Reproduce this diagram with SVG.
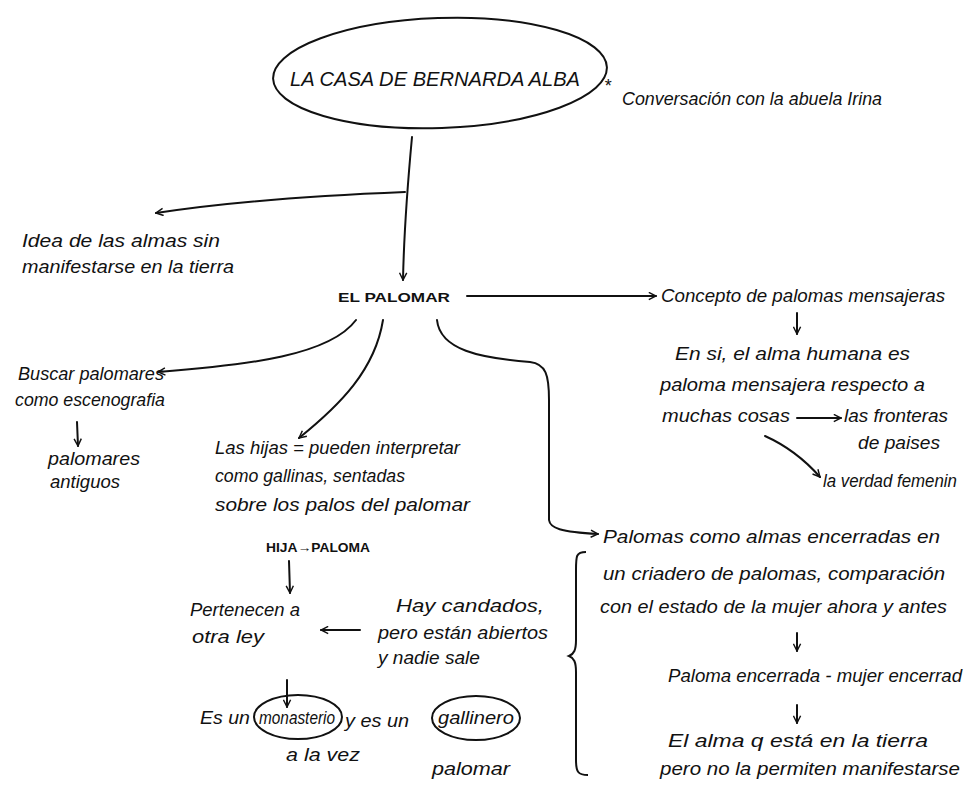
<svg xmlns="http://www.w3.org/2000/svg" width="971" height="787" viewBox="0 0 971 787">
<defs>
<style>
text{font-family:"Liberation Sans","DejaVu Sans",sans-serif;font-style:italic;fill:#111;}
.t{font-size:18px;}
.s{font-size:13px;font-style:normal;font-weight:bold;}
.c{stroke:#111;stroke-width:2;fill:none;stroke-linecap:round;}
.o{stroke:#111;stroke-width:2;fill:none;}
</style>
<marker id="a" viewBox="0 0 10 10" refX="9" refY="5" markerWidth="9" markerHeight="9" orient="auto" markerUnits="userSpaceOnUse">
<path d="M1,1 L9,5 L1,9" fill="none" stroke="#111" stroke-width="1.6"/>
</marker>
</defs>
<rect width="971" height="787" fill="#fff"/>
<g id="connectors">
<path class="c" marker-end="url(#a)" d="M412,137 C408,180 404,230 403,280"/>
<path class="c" marker-end="url(#a)" d="M405,192 C330,195 240,200 156,213"/>
<path class="c" marker-end="url(#a)" d="M467,296 L656,296"/>
<path class="c" marker-end="url(#a)" d="M797,313 L797,334"/>
<path class="c" marker-end="url(#a)" d="M797,418 L841,418"/>
<path class="c" marker-end="url(#a)" d="M765,436 C785,445 805,460 820,477"/>
<path class="c" marker-end="url(#a)" d="M356,320 C330,355 250,365 158,372"/>
<path class="c" marker-end="url(#a)" d="M77,422 L78,446"/>
<path class="c" marker-end="url(#a)" d="M383,320 C375,370 340,405 299,438"/>
<path class="c" marker-end="url(#a)" d="M437,320 C440,350 480,358 530,362 C546,364 549,375 549,400 L549,520 C550,528 560,532 598,534"/>
<path class="c" marker-end="url(#a)" d="M289,561 L290,593"/>
<path class="c" marker-end="url(#a)" d="M360,630 L321,630"/>
<path class="c" marker-end="url(#a)" d="M287,680 L287,707"/>
<path class="c" marker-end="url(#a)" d="M797,633 L797,651"/>
<path class="c" marker-end="url(#a)" d="M797,705 L797,723"/>
</g>
<g id="n-title">
<ellipse class="o" cx="440" cy="73" rx="167" ry="55" transform="rotate(-2 440 73)"/>
<text x="290" y="86" font-size="21" textLength="290" lengthAdjust="spacingAndGlyphs">LA CASA DE BERNARDA ALBA</text>
</g>
<g id="n-conversacion">
<text x="604" y="92" font-size="18" font-style="normal">*</text>
<text class="t" x="622" y="105" textLength="260" lengthAdjust="spacingAndGlyphs">Conversación con la abuela Irina</text>
</g>
<g id="n-idea">
<text class="t" x="22" y="247" textLength="198" lengthAdjust="spacingAndGlyphs">Idea de las almas sin</text>
<text class="t" x="22" y="273" textLength="212" lengthAdjust="spacingAndGlyphs">manifestarse en la tierra</text>
</g>
<g id="n-palomar">
<text class="s" x="338" y="302" textLength="112" lengthAdjust="spacingAndGlyphs">EL PALOMAR</text>
</g>
<g id="n-concepto">
<text class="t" x="661" y="302" textLength="284" lengthAdjust="spacingAndGlyphs">Concepto de palomas mensajeras</text>
</g>
<g id="n-ensi">
<text class="t" x="675" y="360" textLength="235" lengthAdjust="spacingAndGlyphs">En si, el alma humana es</text>
<text class="t" x="660" y="391" textLength="265" lengthAdjust="spacingAndGlyphs">paloma mensajera respecto a</text>
<text class="t" x="662" y="422" textLength="128" lengthAdjust="spacingAndGlyphs">muchas cosas</text>
</g>
<g id="n-fronteras">
<text class="t" x="844" y="422" textLength="104" lengthAdjust="spacingAndGlyphs">las fronteras</text>
<text class="t" x="858" y="449" textLength="82" lengthAdjust="spacingAndGlyphs">de paises</text>
</g>
<g id="n-verdad">
<text class="t" x="823" y="487" textLength="134" lengthAdjust="spacingAndGlyphs">la verdad femenin</text>
</g>
<g id="n-buscar">
<text class="t" x="18" y="380" textLength="146" lengthAdjust="spacingAndGlyphs">Buscar palomares</text>
<text class="t" x="15" y="406" textLength="150" lengthAdjust="spacingAndGlyphs">como escenografia</text>
</g>
<g id="n-antiguos">
<text class="t" x="48" y="465" textLength="92" lengthAdjust="spacingAndGlyphs">palomares</text>
<text class="t" x="50" y="488" textLength="70" lengthAdjust="spacingAndGlyphs">antiguos</text>
</g>
<g id="n-hijas">
<text class="t" x="215" y="454" textLength="245" lengthAdjust="spacingAndGlyphs">Las hijas = pueden interpretar</text>
<text class="t" x="215" y="482" textLength="190" lengthAdjust="spacingAndGlyphs">como gallinas, sentadas</text>
<text class="t" x="215" y="511" textLength="255" lengthAdjust="spacingAndGlyphs">sobre los palos del palomar</text>
</g>
<g id="n-hija-paloma">
<text class="s" x="266" y="552" font-size="11" textLength="104" lengthAdjust="spacingAndGlyphs">HIJA→PALOMA</text>
</g>
<g id="n-pertenecen">
<text class="t" x="190" y="616" textLength="110" lengthAdjust="spacingAndGlyphs">Pertenecen a</text>
<text class="t" x="192" y="643" textLength="72" lengthAdjust="spacingAndGlyphs">otra ley</text>
</g>
<g id="n-candados">
<text class="t" x="396" y="612" textLength="148" lengthAdjust="spacingAndGlyphs">Hay candados,</text>
<text class="t" x="378" y="639" textLength="170" lengthAdjust="spacingAndGlyphs">pero están abiertos</text>
<text class="t" x="378" y="664" textLength="102" lengthAdjust="spacingAndGlyphs">y nadie sale</text>
</g>
<g id="n-monasterio">
<ellipse class="o" cx="298" cy="717" rx="44" ry="22"/>
<ellipse class="o" cx="476" cy="718" rx="44" ry="22"/>
<text class="t" x="200" y="724" textLength="50" lengthAdjust="spacingAndGlyphs">Es un</text>
<text class="t" x="259" y="724" textLength="76" lengthAdjust="spacingAndGlyphs">monasterio</text>
<text class="t" x="345" y="727" textLength="64" lengthAdjust="spacingAndGlyphs">y es un</text>
<text class="t" x="438" y="724" textLength="76" lengthAdjust="spacingAndGlyphs">gallinero</text>
<text class="t" x="286" y="761" textLength="74" lengthAdjust="spacingAndGlyphs">a la vez</text>
<text class="t" x="432" y="775" textLength="78" lengthAdjust="spacingAndGlyphs">palomar</text>
</g>
<g id="n-palomas-almas">
<path class="o" d="M586,552 C576,552 576,556 576,570 L576,640 C576,650 574,654 569,656 C574,658 576,662 576,672 L576,760 C576,772 578,775 588,775"/>
<text class="t" x="603" y="543" textLength="337" lengthAdjust="spacingAndGlyphs">Palomas como almas encerradas en</text>
<text class="t" x="603" y="580" textLength="342" lengthAdjust="spacingAndGlyphs">un criadero de palomas, comparación</text>
<text class="t" x="600" y="613" textLength="347" lengthAdjust="spacingAndGlyphs">con el estado de la mujer ahora y antes</text>
</g>
<g id="n-encerrada">
<text class="t" x="668" y="682" textLength="294" lengthAdjust="spacingAndGlyphs">Paloma encerrada - mujer encerrad</text>
</g>
<g id="n-alma">
<text class="t" x="668" y="747" textLength="260" lengthAdjust="spacingAndGlyphs">El alma q está en la tierra</text>
<text class="t" x="660" y="775" textLength="300" lengthAdjust="spacingAndGlyphs">pero no la permiten manifestarse</text>
</g>
</svg>
